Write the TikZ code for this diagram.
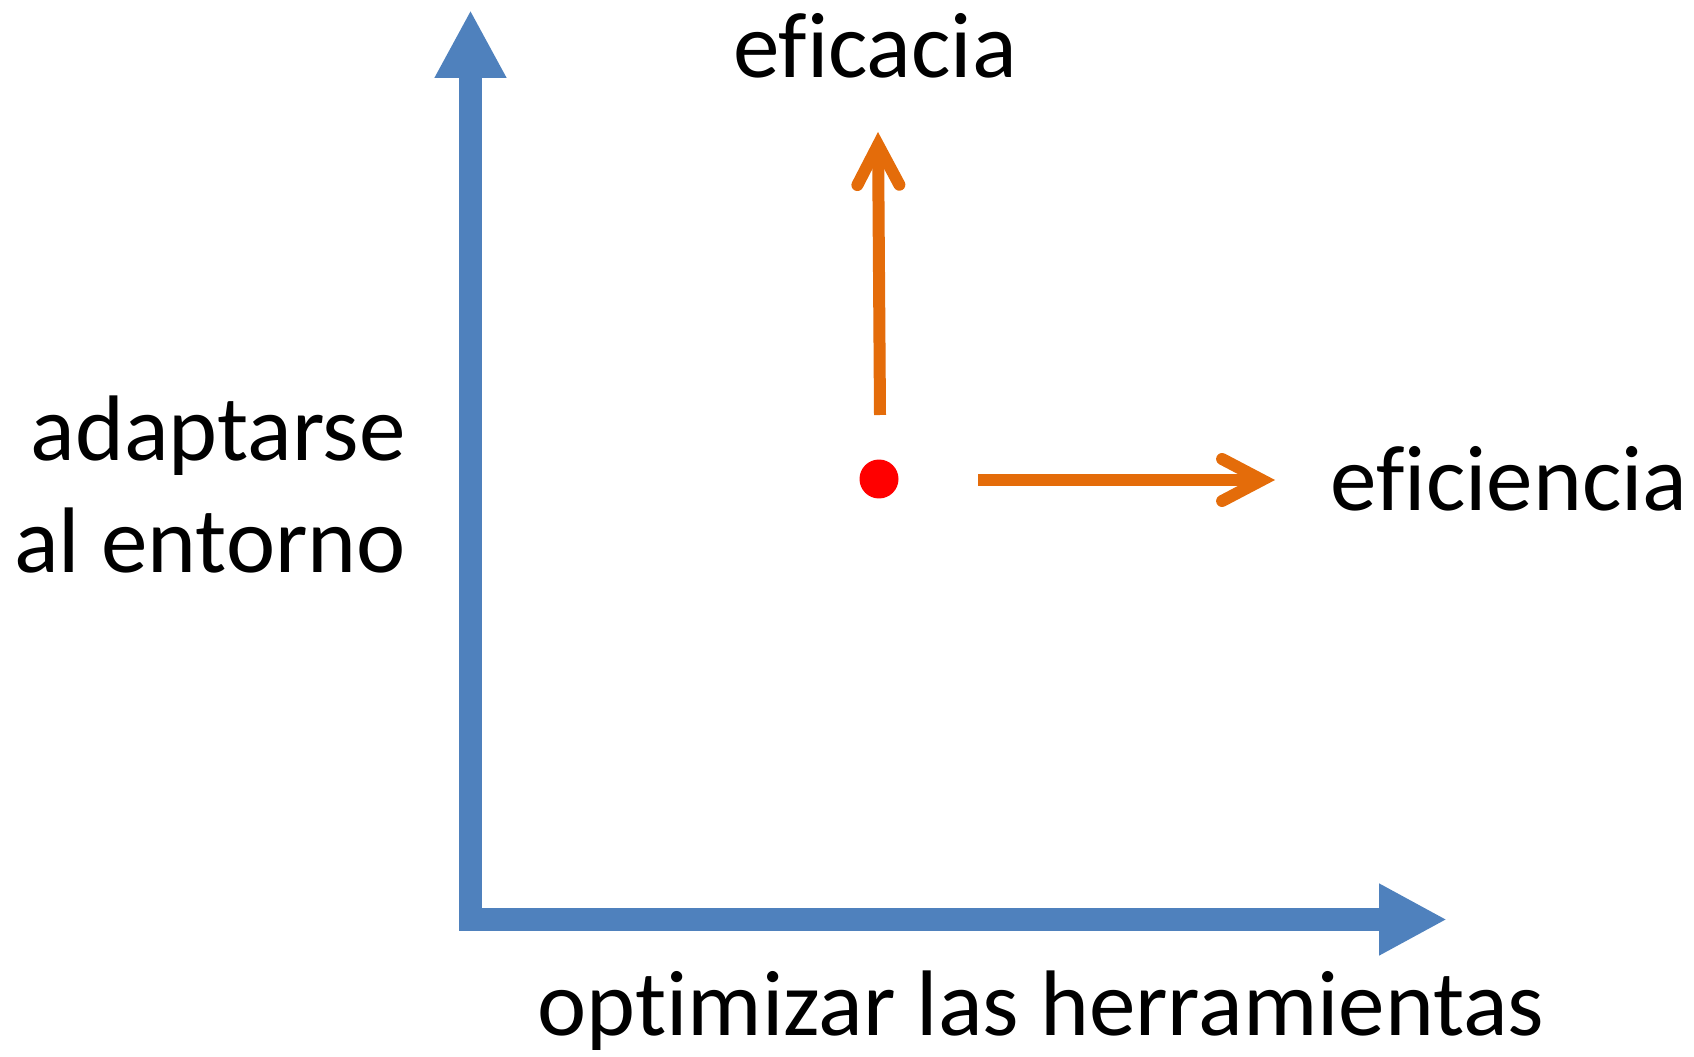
\documentclass[tikz,border=0pt]{standalone}
\usepackage{fontspec}
\setmainfont{Carlito}[Ligatures=NoCommon]
\usetikzlibrary{arrows.meta}
\usetikzlibrary{math}
\definecolor{axisblue}{RGB}{79,129,189}
\definecolor{arroworange}{RGB}{228,108,10}

\begin{document}
\begin{tikzpicture}[x=0.02cm, y=-0.02cm,
  axis/.style={axisblue, line width=0.46cm, line join=miter,
    {Triangle[length=1.36cm,width=1.34cm]}-{Triangle[length=1.36cm,width=1.34cm]}},
  orangearrow/.style={arroworange, line width=0.24cm,
    -{Straight Barb[length=0.8cm,width=0.84cm,line cap=round,line join=miter]}},
  lbl/.style={font=\fontsize{53}{63}\selectfont, inner sep=0pt}]
\tikzmath{
\W=1694; \H=1057;
}

\useasboundingbox (0,0) rectangle (\W,\H);

\coordinate (O) at (470.5,919.5);
\coordinate (ytip) at (470.5,10);
\coordinate (xtip) at (1447,919.5);

\draw[axis] (ytip) -- (O) -- (xtip);

\node[lbl, anchor=base] (eficacia) at (875,78) {eficacia};
\node[lbl, anchor=base] (eficiencia) at (1509,510) {eficiencia};
\node[lbl, anchor=base east] (adapt) at (406,460) {adaptarse};
\node[lbl, anchor=base east] (entorno) at (406,572) {al entorno};
\node[lbl, anchor=base] (optim) at (1041,1035) {optimizar las herramientas};

\node[circle, fill=red, inner sep=0pt, minimum size=0.78cm] (dot) at (879,479) {};

\coordinate (up0) at (880,415);
\coordinate (up1) at (878,132);
\coordinate (rt0) at (978,480);
\coordinate (rt1) at (1275,480);

\draw[orangearrow] (up0) -- (up1);
\draw[orangearrow] (rt0) -- (rt1);

\end{tikzpicture}
\end{document}
